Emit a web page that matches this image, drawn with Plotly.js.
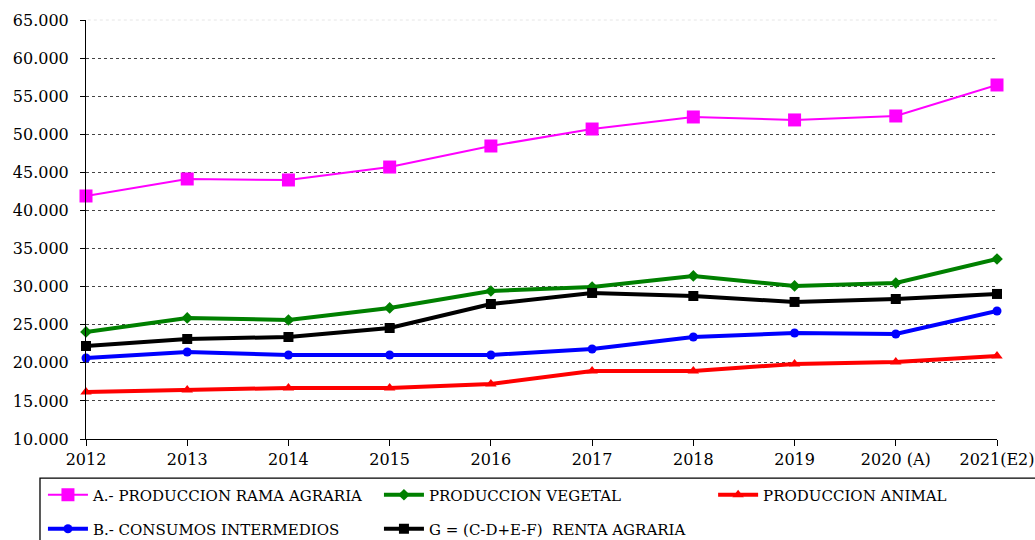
<!DOCTYPE html>
<html><head><meta charset="utf-8">
<script src="https://cdn.plot.ly/plotly-3.0.1.min.js"></script>
<style>body{margin:0;background:#fff}#c{width:1035px;height:540px}</style>
</head><body><div id="c"></div>
<script>
const years = ["2012","2013","2014","2015","2016","2017","2018","2019","2020 (A)","2021(E2)"];
const ramaAgraria = [41900,44130,44000,45700,48460,50690,52270,51880,52400,56470];
const prodVegetal = [24050,25890,25620,27200,29430,29950,31400,30090,30480,33630];
const prodAnimal = [16170,16430,16700,16700,17220,18930,18930,19850,20110,20900];
const consumosInt = [20630,21420,21030,21030,21030,21820,23390,23920,23790,26800];
const rentaAgraria = [22210,23130,23390,24570,27720,29170,28770,27990,28380,29040];
const names = ["A.- PRODUCCION RAMA AGRARIA","PRODUCCION VEGETAL","PRODUCCION ANIMAL","B.- CONSUMOS INTERMEDIOS","G = (C-D+E-F)  RENTA AGRARIA"];

const xs = years.map((_, i) => i);
const FONT = "'DejaVu Serif', 'Liberation Serif', serif";
function tr(y, name, color, sym, msize, lw, leg) {
  return {x: xs, y: y, name: name, type: 'scatter', mode: 'lines+markers', cliponaxis: false,
    line: {color: color, width: lw}, marker: {color: color, symbol: sym, size: msize},
    legend: leg, hoverinfo: 'skip'};
}
const data = [
  tr(ramaAgraria, names[0], '#ff00ff', 'square', 13, 2, 'legend'),
  tr(prodVegetal, names[1], '#008000', 'diamond', 9, 4, 'legend'),
  tr(prodAnimal, names[2], '#ff0000', 'triangle-up', 10, 4, 'legend3'),
  tr(consumosInt, names[3], '#0000ff', 'circle', 9, 4, 'legend2'),
  tr(rentaAgraria, names[4], '#000000', 'square', 10, 4, 'legend2')
];
const legBase = {orientation: 'h', xanchor: 'left', yanchor: 'middle', traceorder: 'normal',
  xref: 'container', yref: 'container',
  entrywidth: 281, entrywidthmode: 'pixels', itemwidth: 40, bgcolor: 'rgba(0,0,0,0)',
  font: {family: FONT, size: 15, color: '#000'}, itemclick: false};
const layout = {
  width: 1035, height: 540,
  margin: {l: 86, r: 38, t: 20, b: 101, autoexpand: false},
  paper_bgcolor: '#fff', plot_bgcolor: '#fff',
  separators: ',.',
  font: {family: FONT, size: 16, color: '#000'},
  xaxis: {range: [0, 9], tickvals: xs, ticktext: years, showgrid: false, zeroline: false,
    showline: true, linecolor: '#000', linewidth: 1, ticks: 'outside', ticklen: 6, tickcolor: '#000',
    tickfont: {family: FONT, size: 16, color: '#000'}},
  yaxis: {range: [10000, 65000], dtick: 5000, tick0: 10000, tickformat: ',.0f',
    showgrid: true, gridcolor: '#444', griddash: 'dot', gridwidth: 1, zeroline: false,
    showline: true, linecolor: '#000', linewidth: 1, ticks: 'outside', ticklen: 5, tickcolor: '#000',
    ticklabelstandoff: 8, tickfont: {family: FONT, size: 16, color: '#000'}},
  legend: Object.assign({}, legBase, {x: 0.0415, y: 0.0833}),
  legend3: Object.assign({}, legBase, {x: 0.689, y: 0.0833}),
  legend2: Object.assign({}, legBase, {x: 0.0415, y: 0.0204}),
  shapes: [
    {type: 'line', xref: 'paper', yref: 'paper', x0: 0.002, x1: 1, y0: 1, y1: 1,
      line: {color: '#fff', width: 3}, layer: 'between'},
    {type: 'line', xref: 'paper', yref: 'paper', x0: 0.002, x1: 1, y0: 1, y1: 1,
      line: {color: '#e6e6e6', width: 1, dash: 'dot'}, layer: 'between'},
    {type: 'rect', xref: 'paper', yref: 'paper', x0: -0.0505, x1: 1.06, y0: -0.3, y1: -0.0933,
      line: {color: '#000', width: 1.3}, fillcolor: 'rgba(0,0,0,0)', layer: 'above'}],
  showlegend: true
};
Plotly.newPlot('c', data, layout, {staticPlot: true, displayModeBar: false});
</script></body></html>
